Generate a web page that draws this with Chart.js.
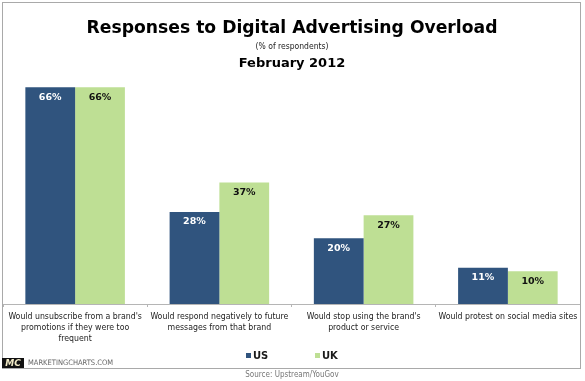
<!DOCTYPE html>
<html><head><meta charset="utf-8">
<script src="https://cdn.jsdelivr.net/npm/chart.js@4.4.1/dist/chart.umd.min.js"></script>
<style>html,body{margin:0;padding:0;background:#fff}#wrap{width:585px;height:381px;position:relative}</style>
</head><body><div id="wrap"><canvas id="c" width="585" height="381"></canvas></div>
<script>
const categories = [
  ["Would unsubscribe from a brand's", "promotions if they were too", "frequent"],
  ["Would respond negatively to future", "messages from that brand"],
  ["Would stop using the brand's", "product or service"],
  ["Would protest on social media sites"]
];
const usValues = [66, 28, 20, 11];
const ukValues = [66, 37, 27, 10];
const seriesNames = ["US", "UK"];
const titleText = "Responses to Digital Advertising Overload";
const subtitleText = "(% of respondents)";
const dateText = "February 2012";
const sourceText = "Source: Upstream/YouGov";
const brandText = "MARKETINGCHARTS.COM";
const logoText = "MC";

const US_COLOR = '#30547e';
const UK_COLOR = '#bedf94';
const SANS = '"DejaVu Sans Condensed", "DejaVu Sans", sans-serif';
const BOLD = '"DejaVu Sans", sans-serif';

const decor = {
  id: 'decor',
  afterDraw(chart) {
    const ctx = chart.ctx;
    ctx.save();
    // frame
    ctx.strokeStyle = '#a9a9a9';
    ctx.lineWidth = 1;
    ctx.strokeRect(2.5, 2.5, 578, 366);
    const cx = 292;
    ctx.textAlign = 'center';
    ctx.textBaseline = 'middle';
    ctx.fillStyle = '#000';
    ctx.font = 'bold 17.2px ' + BOLD;
    ctx.fillText(titleText, cx, 29);
    ctx.fillStyle = '#222';
    ctx.font = '8.5px ' + SANS;
    ctx.fillText(subtitleText, cx, 47);
    ctx.fillStyle = '#000';
    ctx.font = 'bold 13px ' + BOLD;
    ctx.fillText(dateText, cx, 64);
    // legend from datasets
    const legendX = [246, 315];
    ctx.textAlign = 'left';
    ctx.font = 'bold 10px ' + BOLD;
    chart.data.datasets.forEach((ds, i) => {
      ctx.fillStyle = ds.backgroundColor;
      ctx.fillRect(legendX[i], 353, 5, 5);
      ctx.fillStyle = '#1a1a1a';
      ctx.fillText(ds.label, legendX[i] + 7, 356);
    });
    // logo
    ctx.fillStyle = '#111';
    ctx.fillRect(2, 358, 22, 10);
    ctx.textAlign = 'center';
    ctx.fillStyle = '#f3ecc8';
    ctx.font = 'italic bold 9px ' + BOLD;
    ctx.fillText(logoText, 13, 363.5);
    ctx.textAlign = 'left';
    ctx.fillStyle = '#666';
    ctx.font = '7.5px ' + SANS;
    ctx.fillText(brandText, 28, 363.5);
    ctx.textAlign = 'center';
    ctx.fillStyle = '#777';
    ctx.font = '8px ' + SANS;
    ctx.fillText(sourceText, cx, 375);
    ctx.restore();
  }
};

const valueLabels = {
  id: 'valueLabels',
  afterDatasetsDraw(chart) {
    const ctx = chart.ctx;
    ctx.save();
    ctx.textAlign = 'center';
    ctx.textBaseline = 'middle';
    ctx.font = 'bold 9.5px ' + BOLD;
    chart.data.datasets.forEach((ds, i) => {
      const meta = chart.getDatasetMeta(i);
      meta.data.forEach((bar, j) => {
        ctx.fillStyle = i === 0 ? '#ffffff' : '#111111';
        ctx.fillText(ds.data[j] + '%', bar.x, bar.y + 10);
      });
    });
    ctx.restore();
  }
};

new Chart(document.getElementById('c'), {
  type: 'bar',
  data: {
    labels: categories,
    datasets: [
      { label: seriesNames[0], data: usValues, backgroundColor: US_COLOR },
      { label: seriesNames[1], data: ukValues, backgroundColor: UK_COLOR }
    ]
  },
  options: {
    responsive: false,
    animation: false,
    devicePixelRatio: 1,
    layout: { padding: { top: 74, left: 3, right: 5, bottom: 33 } },
    datasets: { bar: { barPercentage: 1, categoryPercentage: 0.69 } },
    scales: {
      x: {
        grid: { display: true, drawOnChartArea: false, drawTicks: true, tickLength: 3, color: '#b5b5b5' },
        border: { display: true, color: '#b5b5b5' },
        ticks: { color: '#222', padding: 4, maxRotation: 0, autoSkip: false,
                 font: { family: SANS, size: 8.7, lineHeight: '11px' } }
      },
      y: { display: false, min: 0, max: 70 }
    },
    plugins: {
      legend: { display: false },
      tooltip: { enabled: false }
    }
  },
  plugins: [decor, valueLabels]
});
</script>
</body></html>
